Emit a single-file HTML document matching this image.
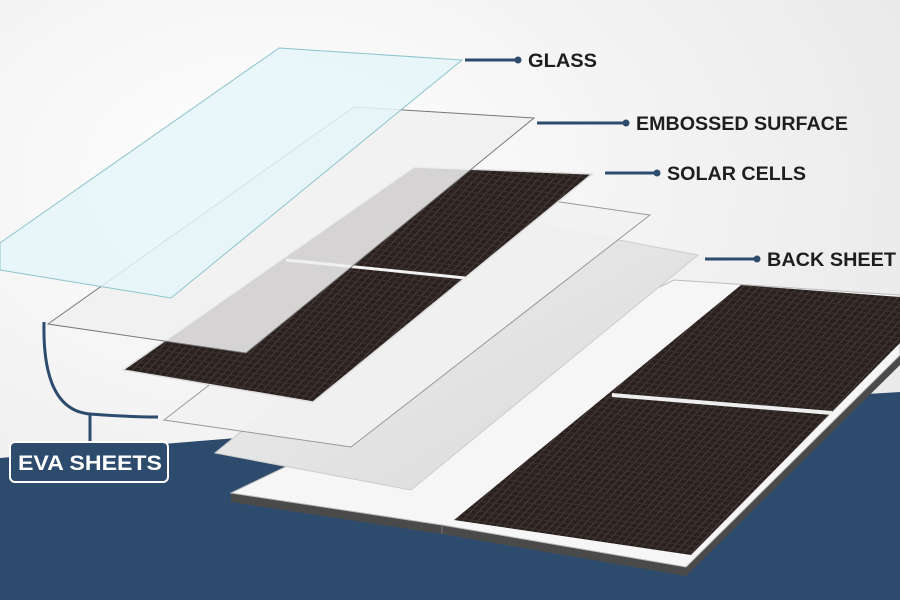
<!DOCTYPE html>
<html><head><meta charset="utf-8"><style>
html,body{margin:0;padding:0;width:900px;height:600px;overflow:hidden;background:#f3f3f3}
svg{display:block}
text{font-family:"Liberation Sans",sans-serif;font-weight:bold}
</style></head><body>
<svg width="900" height="600" viewBox="0 0 900 600" xmlns="http://www.w3.org/2000/svg">
<defs>
<radialGradient id="bg" cx="0.3" cy="0.3" r="0.8">
<stop offset="0" stop-color="#ffffff"/><stop offset="1" stop-color="#e9e9e9"/>
</radialGradient>
<pattern id="cell" width="7" height="5" patternUnits="userSpaceOnUse" patternTransform="rotate(8) skewX(-35)">
<rect width="7" height="5" fill="#2a201d"/>
<rect x="6" width="1" height="5" fill="#4d4340"/>
<rect y="4" width="7" height="1" fill="#3b3230"/>
</pattern>
<linearGradient id="gc" x1="0" y1="0" x2="1" y2="1">
<stop offset="0" stop-color="#efefef"/><stop offset="1" stop-color="#d9d9d9"/>
</linearGradient>
</defs>
<rect width="900" height="600" fill="url(#bg)"/>
<path d="M0,458 Q450,418 900,392 L900,600 L0,600 Z" fill="#2d4b6c"/>

<polygon points="231,493 442,525 686,567 900,355 900,365 686,576 442,534 231,502" fill="#4a4a4a"/>
<polygon points="231,493 674,280 900,295 900,355 686,567 442,525" fill="#f6f6f6" stroke="#bbb" stroke-width="1"/>
<line x1="442" y1="525" x2="442" y2="534" stroke="#777"/>
<polygon points="741,285 900,297 900,343 691,555 454,520" fill="url(#cell)"/>
<line x1="612" y1="395" x2="832" y2="413" stroke="#eee" stroke-width="4"/>

<polygon points="502,218 698,255 411,490 215,453" fill="url(#gc)" stroke="#ccc" stroke-width="1"/>
<polygon points="463,188 650,215 351,447 164,420" fill="#f1f1f1" fill-opacity="0.92" stroke="#999" stroke-width="1"/>
<polygon points="414,167 592,174 313,402 123,370" fill="url(#cell)" stroke="#ddd" stroke-width="1.5"/>
<line x1="286" y1="260" x2="465" y2="278" stroke="#f2f2f2" stroke-width="3"/>
<polygon points="354,107 534,118 246,353 48,324" fill="#f0f0f0" fill-opacity="0.86" stroke="#777" stroke-width="1"/>
<polygon points="279,48 462,60 171,298 0,270 0,243" fill="#e6f6f9" fill-opacity="0.85" stroke="#8cc4cc" stroke-width="1"/>

<g stroke="#2d4b6c" stroke-width="3" fill="none">
<line x1="465" y1="60" x2="518" y2="60"/>
<line x1="537" y1="123" x2="626" y2="123"/>
<line x1="605" y1="173" x2="657" y2="173"/>
<line x1="705" y1="259" x2="757" y2="259"/>
<path d="M44,322 Q42,410 90,414 Q130,417 158,417"/>
<line x1="90" y1="414" x2="90" y2="442"/>
</g>
<g fill="#2d4b6c">
<circle cx="518" cy="60" r="3.5"/><circle cx="626" cy="123" r="3.5"/>
<circle cx="657" cy="173" r="3.5"/><circle cx="757" cy="259" r="3.5"/>
</g>
<g fill="#1e1e1e" font-size="19">
<text x="528" y="67" textLength="69" lengthAdjust="spacingAndGlyphs">GLASS</text>
<text x="636" y="130" textLength="212" lengthAdjust="spacingAndGlyphs">EMBOSSED SURFACE</text>
<text x="667" y="180" textLength="139" lengthAdjust="spacingAndGlyphs">SOLAR CELLS</text>
<text x="767" y="266" textLength="129" lengthAdjust="spacingAndGlyphs">BACK SHEET</text>
</g>
<rect x="10" y="442" width="158" height="40" rx="5" fill="#2d4b6c" stroke="#fff" stroke-width="2"/>
<text x="18" y="470" fill="#fff" font-size="21" textLength="144" lengthAdjust="spacingAndGlyphs">EVA SHEETS</text>
</svg>
</body></html>
